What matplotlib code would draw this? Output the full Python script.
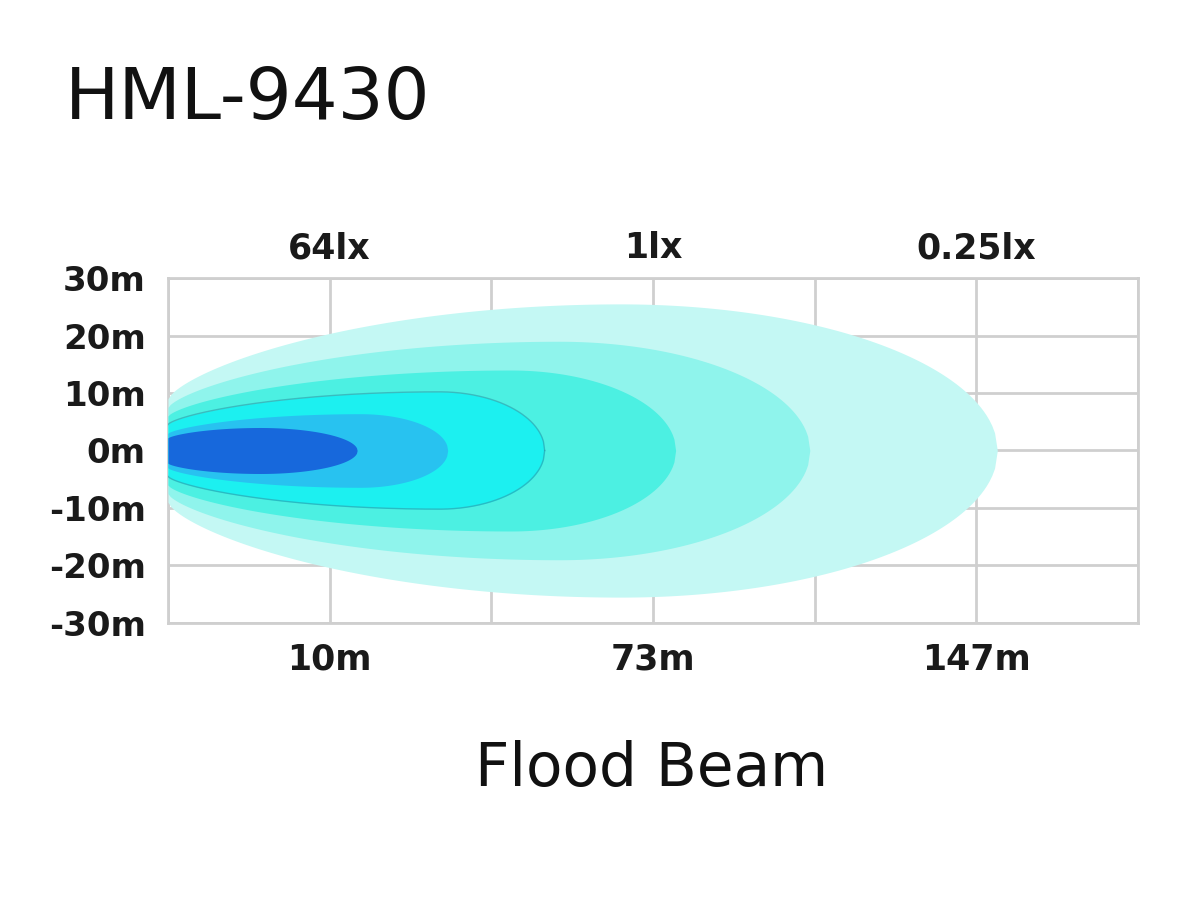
import numpy as np
import matplotlib.pyplot as plt

plt.rcParams['font.family'] = ['DejaVu Sans']

# ======================
# Datos del haz (unidades de columna en x, metros en y)
# ======================
y_ticks = [30, 20, 10, 0, -10, -20, -30]
y_labels = ['30m', '20m', '10m', '0m', '-10m', '-20m', '-30m']
top_labels = ['64lx', '1lx', '0.25lx']
bottom_labels = ['10m', '73m', '147m']
label_cols = [1, 3, 5]

# capas de exterior a interior
reach = [5.13, 3.97, 3.14, 2.33, 1.73, 1.17]      # alcance de cada isolínea
peak_at = [2.80, 2.42, 2.12, 1.68, 1.19, 0.57]    # posición del ancho máximo
half_width = [25.5, 19.0, 14.0, 10.2, 6.4, 4.0]   # semiancho máximo (m)
base_width = [9.0, 7.5, 6.0, 4.5, 3.0, 2.2]       # semiancho en el origen (m)
colors = ['#c4f8f4', '#8ff4ec', '#4cf0e2', '#1cf0f0', '#28c2f0', '#1768dc']


def beam_outline(L, xm, W, w0, n=300):
    """Contorno tipo gota: subida suave hasta xm y casquete elíptico hasta L"""
    x = np.linspace(0, L, n)
    w = np.empty_like(x)
    left = x <= xm
    u = (xm - x[left]) / xm
    w[left] = w0 + (W - w0) * np.clip(1 - u ** 2, 0, 1) ** 0.7
    v = (x[~left] - xm) / (L - xm)
    w[~left] = W * np.sqrt(np.clip(1 - v ** 2, 0, 1))
    return x, w


fig = plt.figure(figsize=(12, 9), dpi=100)
ax = fig.add_axes([0.14, 0.3078, 0.8083, 0.3833])

for i, (L, xm, W, w0, c) in enumerate(zip(reach, peak_at, half_width, base_width, colors)):
    x, w = beam_outline(L, xm, W, w0)
    ax.fill_between(x, -w, w, color=c, lw=0, zorder=2 + i)
    if i == 3:
        ax.plot(x, w, color='#2f9aa8', lw=1.0, alpha=0.6, zorder=2 + i)
        ax.plot(x, -w, color='#2f9aa8', lw=1.0, alpha=0.6, zorder=2 + i)

ax.set_xlim(0, 6)
ax.set_ylim(-30, 30)
ax.set_xticks(range(7))
ax.set_yticks(y_ticks)
ax.set_yticklabels(y_labels, fontsize=24.5, fontweight='bold', color='#1a1a1a')
ax.set_xticklabels([])
ax.tick_params(length=0, pad=16)
ax.grid(True, color='#cfcfcf', lw=2)
ax.set_axisbelow(True)
for s in ax.spines.values():
    s.set_color('#cfcfcf')
    s.set_linewidth(2)
    s.set_zorder(1)

for col, t, b in zip(label_cols, top_labels, bottom_labels):
    ax.text(col, 35.2, t, ha='center', va='center', fontsize=25,
            fontweight='bold', color='#1a1a1a', clip_on=False)
    ax.text(col, -36.4, b, ha='center', va='center', fontsize=25,
            fontweight='bold', color='#1a1a1a', clip_on=False)

fig.text(0.054, 0.889, 'HML-9430', fontsize=52, color='#111111',
         ha='left', va='center')
fig.text(0.543, 0.145, 'Flood Beam', fontsize=43, color='#111111',
         ha='center', va='center')

fig.savefig('out.png', dpi=100)
